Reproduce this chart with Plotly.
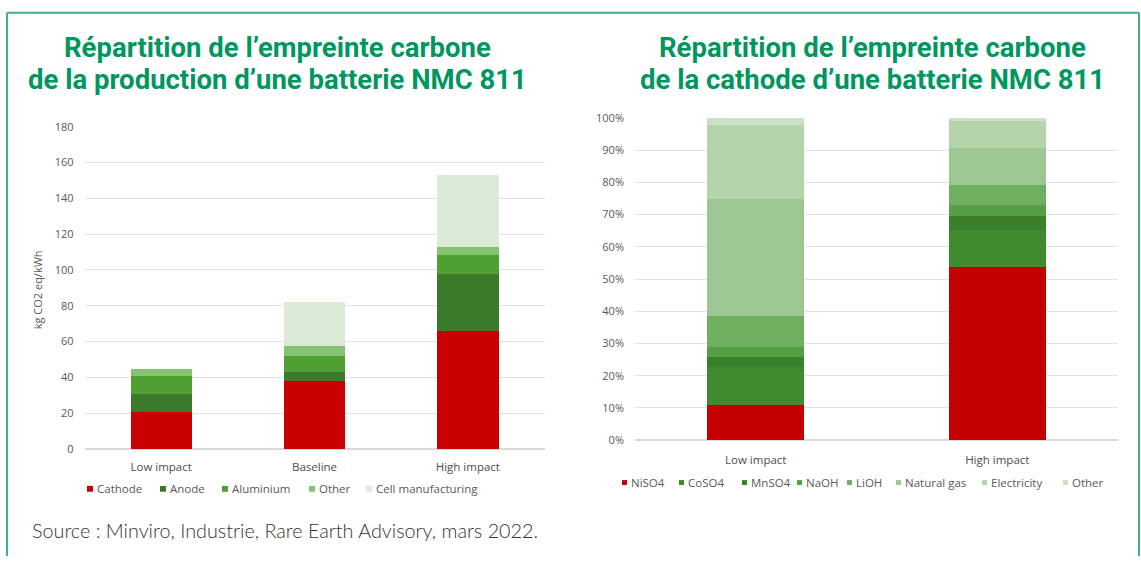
import plotly.graph_objects as go

W, H = 1141, 563

# ---- Left chart: carbon footprint of producing an NMC 811 battery (kg CO2 eq/kWh)
prod_categories = ["Low impact", "Baseline", "High impact"]
prod_series = ["Cathode", "Anode", "Aluminium", "Other", "Cell manufacturing"]
cathode = [20.7, 38.2, 66.0]
anode = [9.9, 4.8, 31.7]
aluminium = [10.0, 9.0, 10.5]
other_prod = [4.2, 5.5, 4.8]
cell_manufacturing = [0.0, 24.8, 40.3]
prod_ticks = [0, 20, 40, 60, 80, 100, 120, 140, 160, 180]

# ---- Right chart: cathode footprint split (% of total)
cath_categories = ["Low impact", "High impact"]
cath_series = ["NiSO4", "CoSO4", "MnSO4", "NaOH", "LiOH", "Natural gas", "Electricity", "Other"]
niso4 = [10.8, 53.9]
coso4 = [11.8, 11.3]
mnso4 = [3.3, 4.5]
naoh = [3.0, 3.3]
lioh = [9.6, 6.3]
natural_gas = [36.2, 11.5]
electricity = [23.2, 8.2]
other_cath = [2.1, 1.0]
pct_ticks = [0, 10, 20, 30, 40, 50, 60, 70, 80, 90, 100]
pct_labels = [f"{v}%" for v in pct_ticks]

prod_values = [cathode, anode, aluminium, other_prod, cell_manufacturing]
prod_colors = ["#c80000", "#3b7a2a", "#4f9f33", "#84c36f", "#dcebd6"]
cath_values = [niso4, coso4, mnso4, naoh, lioh, natural_gas, electricity, other_cath]
cath_colors = ["#c40000", "#3e8a2c", "#3a7f2c", "#55a044", "#6fb060",
               "#9cc792", "#b4d4ab", "#cbe1c5"]

GREEN_TITLE = "#00975f"
GREY = "#595959"
LABEL_FONT = "Open Sans"


def px_x(v):
    return v / W


def px_y(v):
    return 1 - v / H


fig = go.Figure()

for name, vals, col in zip(prod_series, prod_values, prod_colors):
    fig.add_trace(go.Bar(x=prod_categories, y=vals, name=name, marker_color=col,
                         marker_line_width=0, xaxis="x", yaxis="y", showlegend=False))

for name, vals, col in zip(cath_series, cath_values, cath_colors):
    fig.add_trace(go.Bar(x=cath_categories, y=vals, name=name, marker_color=col,
                         marker_line_width=0, xaxis="x2", yaxis="y2", showlegend=False))

axis_font = dict(family=LABEL_FONT, size=11, color=GREY)
cat_font = dict(family=LABEL_FONT, size=11.5, color="#4d4d4d")

fig.update_layout(
    width=W, height=H, autosize=False,
    margin=dict(l=0, r=0, t=0, b=0),
    paper_bgcolor="white", plot_bgcolor="white",
    barmode="stack", bargap=0.6,
    xaxis=dict(domain=[px_x(84.5), px_x(544.5)], anchor="y", showgrid=False,
               showline=False, ticks="", tickfont=cat_font, ticklabelstandoff=10),
    yaxis=dict(domain=[px_y(453), px_y(122)], anchor="x", range=[0, 180],
               tickvals=prod_ticks, showgrid=True, gridcolor="#e3e3e3", gridwidth=1,
               zeroline=True, zerolinecolor="#d9d9d9", showline=False, ticks="",
               tickfont=axis_font, ticklabelstandoff=10),
    xaxis2=dict(domain=[px_x(635), px_x(1118)], anchor="y2", showgrid=False,
                showline=False, ticks="", tickfont=cat_font, ticklabelstandoff=11),
    yaxis2=dict(domain=[px_y(444), px_y(113)], anchor="x2", range=[0, 100],
                tickvals=pct_ticks, ticktext=pct_labels, showgrid=True,
                gridcolor="#e3e3e3", gridwidth=1, zeroline=True,
                zerolinecolor="#d9d9d9", showline=False, ticks="",
                tickfont=axis_font, ticklabelstandoff=10),
)

annotations = []
shapes = []

# Titles
title_font = dict(family="Roboto, sans-serif", size=27.5, color=GREEN_TITLE, weight="bold")
for cx, lines in [(277, ["Répartition de l’empreinte carbone",
                         "de la production d’une batterie NMC 811"]),
                  (872, ["Répartition de l’empreinte carbone",
                         "de la cathode d’une batterie NMC 811"])]:
    for ly, txt in zip([41, 73], lines):
        annotations.append(dict(x=px_x(cx), y=px_y(ly), xref="paper", yref="paper",
                                text=txt, showarrow=False, xanchor="center",
                                yanchor="middle", font=title_font))

# Y-axis title of the left chart
annotations.append(dict(x=px_x(37), y=px_y(290), xref="paper", yref="paper",
                        text="kg CO2 eq/kWh", textangle=-90, showarrow=False,
                        xanchor="center", yanchor="middle",
                        font=dict(family=LABEL_FONT, size=11, color=GREY)))

# Legends (small square swatch followed by the series name)
legend_font = dict(family=LABEL_FONT, size=11.5, color=GREY)
for names, colors, xs, ly, sz in [
        (prod_series, prod_colors, [87, 160, 222, 309, 366], 494, 6),
        (cath_series, cath_colors, [622, 679, 742, 797, 847, 896, 982, 1063], 487.5, 5)]:
    for name, col, sx in zip(names, colors, xs):
        shapes.append(dict(type="rect", xref="paper", yref="paper",
                           x0=px_x(sx), x1=px_x(sx + sz),
                           y0=px_y(ly + sz / 2), y1=px_y(ly - sz / 2),
                           fillcolor=col, line_width=0))
        annotations.append(dict(x=px_x(sx + sz + 2), y=px_y(ly), xref="paper",
                                yref="paper", text=name, showarrow=False,
                                xanchor="left", yanchor="middle", font=legend_font))

# Source line
annotations.append(dict(x=px_x(30), y=px_y(536), xref="paper", yref="paper",
                        text="Source : Minviro, Industrie, Rare Earth Advisory, mars 2022.",
                        showarrow=False, xanchor="left", yanchor="middle",
                        font=dict(family="Lato", size=19.8, color="#333333", weight=300)))

# Green frame around the figure (top, left, right)
frame = "#3db38a"
for x0, y0, x1, y1 in [(7, 5, 1139, 5), (7, 5, 7, 563), (1139, 5, 1139, 563)]:
    shapes.append(dict(type="line", xref="paper", yref="paper",
                       x0=px_x(x0), y0=px_y(y0), x1=px_x(x1), y1=px_y(y1),
                       line=dict(color=frame, width=2)))

fig.update_layout(annotations=annotations, shapes=shapes)

fig.write_html("out.html")
